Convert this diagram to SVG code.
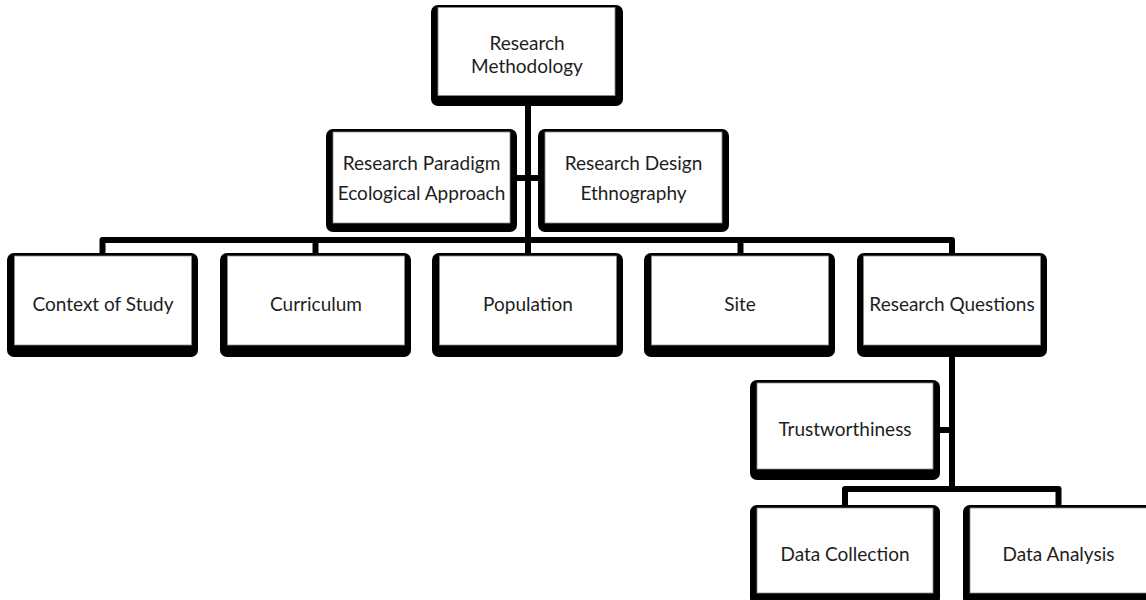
<svg xmlns="http://www.w3.org/2000/svg" width="1146" height="600" viewBox="0 0 1146 600">
  <style>
    .frame { fill: #000; }
    .face { fill: #fff; stroke: #8a8a8a; stroke-width: 0.8; }
    .label { font-family: Lato, "Liberation Sans", sans-serif; font-size: 19px; fill: #1e1e1e; text-anchor: middle; }
    .link { fill: none; stroke: #000; stroke-width: 6; stroke-linejoin: round; stroke-linecap: butt; }
  </style>
  <rect width="1146" height="600" fill="#fff"/>

  <!-- connectors -->
  <g id="connectors">
    <path class="link" d="M528 104 V255"/>
    <path class="link" d="M515 178 H540"/>
    <path class="link" d="M102.5 255 V240 H952 V255"/>
    <path class="link" d="M315.5 240 V255"/>
    <path class="link" d="M740.5 240 V255"/>
    <path class="link" d="M952 355 V489"/>
    <path class="link" d="M938 430 H952"/>
    <path class="link" d="M845 507 V489 H1058.5 V507"/>
  </g>

  <!-- nodes -->
  <g id="research-methodology">
    <rect class="frame" x="431" y="5" width="192" height="101" rx="7"/>
    <rect class="face" x="438" y="7.5" width="177" height="88"/>
    <text class="label" x="527" y="50">Research</text>
    <text class="label" x="527" y="73">Methodology</text>
  </g>

  <g id="research-paradigm">
    <rect class="frame" x="326" y="129" width="191" height="103" rx="7"/>
    <rect class="face" x="333" y="132" width="177" height="91"/>
    <text class="label" x="421.5" y="170">Research Paradigm</text>
    <text class="label" x="421.5" y="200">Ecological Approach</text>
  </g>

  <g id="research-design">
    <rect class="frame" x="538" y="129" width="191" height="103" rx="7"/>
    <rect class="face" x="545" y="132" width="177" height="91"/>
    <text class="label" x="633.5" y="170">Research Design</text>
    <text class="label" x="633.5" y="200">Ethnography</text>
  </g>

  <g id="context-of-study">
    <rect class="frame" x="7" y="253" width="191" height="104" rx="7"/>
    <rect class="face" x="14.5" y="256" width="177" height="89"/>
    <text class="label" x="103" y="311">Context of Study</text>
  </g>

  <g id="curriculum">
    <rect class="frame" x="220" y="253" width="191" height="104" rx="7"/>
    <rect class="face" x="227.5" y="256" width="177" height="89"/>
    <text class="label" x="316" y="311">Curriculum</text>
  </g>

  <g id="population">
    <rect class="frame" x="432" y="253" width="191" height="104" rx="7"/>
    <rect class="face" x="439.5" y="256" width="177" height="89"/>
    <text class="label" x="528" y="311">Population</text>
  </g>

  <g id="site">
    <rect class="frame" x="644" y="253" width="191" height="104" rx="7"/>
    <rect class="face" x="651.5" y="256" width="177" height="89"/>
    <text class="label" x="740" y="311">Site</text>
  </g>

  <g id="research-questions">
    <rect class="frame" x="857" y="253" width="190" height="104" rx="7"/>
    <rect class="face" x="863.5" y="256" width="177" height="89"/>
    <text class="label" x="952" y="311">Research Questions</text>
  </g>

  <g id="trustworthiness">
    <rect class="frame" x="750" y="380" width="190" height="100" rx="7"/>
    <rect class="face" x="757" y="383" width="176" height="86"/>
    <text class="label" x="845" y="436">Trustworthiness</text>
  </g>

  <g id="data-collection">
    <rect class="frame" x="750" y="505" width="190" height="100" rx="7"/>
    <rect class="face" x="757" y="508" width="176" height="85"/>
    <text class="label" x="845" y="561">Data Collection</text>
  </g>

  <g id="data-analysis">
    <rect class="frame" x="963" y="505" width="191" height="100" rx="7"/>
    <rect class="face" x="970" y="508" width="177" height="85"/>
    <text class="label" x="1058.5" y="561">Data Analysis</text>
  </g>
</svg>
